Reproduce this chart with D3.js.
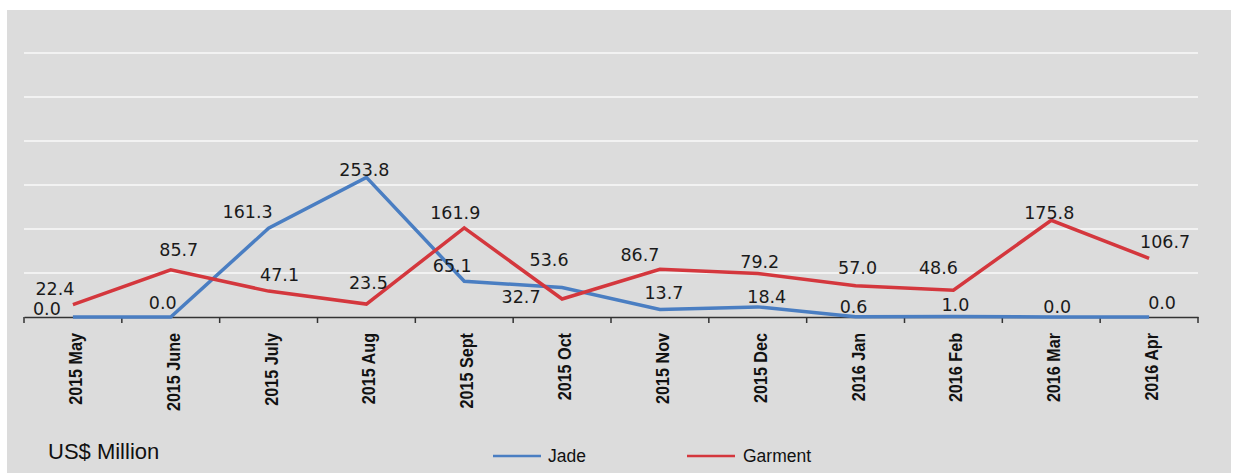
<!DOCTYPE html>
<html>
<head>
<meta charset="utf-8">
<script src="https://cdn.jsdelivr.net/npm/d3@7"></script>
<style>
  html, body { margin: 0; padding: 0; background: #ffffff; }
  svg { display: block; }
</style>
</head>
<body>
<svg id="chart" width="1236" height="473"></svg>
<script>
// ---- data ----
const categories = ["2015 May", "2015 June", "2015 July", "2015 Aug", "2015 Sept", "2015 Oct",
                    "2015 Nov", "2015 Dec", "2016 Jan", "2016 Feb", "2016 Mar", "2016 Apr"];
const jade    = [0.0, 0.0, 161.3, 253.8, 65.1, 53.6, 13.7, 18.4, 0.6, 1.0, 0.0, 0.0];
const garment = [22.4, 85.7, 47.1, 23.5, 161.9, 32.7, 86.7, 79.2, 57.0, 48.6, 175.8, 106.7];
const yTicks  = [0, 80, 160, 240, 320, 400, 480];
const unitLabel = "US$ Million";

// label placement offsets (dx, dy) relative to each point
const jadeLabelOffsets = [[-26,-2],[-8,-8],[-21,-10],[-2,-1],[-12,-9],[-13,-22],[4,-10],[9,-4],[-2,-4],[2,-5],[6,-4],[13,-8]];
const garmentLabelOffsets = [[-18,-10],[8,-14],[11,-10],[2,-15],[-9,-9],[-41,4],[-20,-8],[2,-5],[2,-12],[-15,-16],[-2,-1],[16,-10]];

const series = [
  { name: "Jade", values: jade, color: "#4a7ec2", offsets: jadeLabelOffsets },
  { name: "Garment", values: garment, color: "#d4373d", offsets: garmentLabelOffsets }
];

const svg = d3.select("#chart");

// background panel
svg.append("rect").attr("x", 7).attr("y", 10).attr("width", 1224).attr("height", 463)
  .attr("fill", "#dcdcdc");

const x = d3.scaleBand().domain(categories).range([24, 1198]).padding(0);
const y = d3.scaleLinear().domain([0, 480]).range([317, 53]);

// gridlines
svg.append("g").selectAll("line").data(yTicks.filter(d => d > 0)).join("line")
  .attr("x1", 24).attr("x2", 1198)
  .attr("y1", d => y(d)).attr("y2", d => y(d))
  .attr("stroke", "#f2f2f2").attr("stroke-width", 2);

// x axis
const xAxis = d3.axisBottom(x).tickSize(0).tickFormat("");
const gx = svg.append("g").attr("transform", `translate(0,${y(0)})`).call(xAxis);
gx.select(".domain").attr("stroke", "#333").attr("stroke-width", 1.5);
// boundary tick marks
const bounds = categories.map(c => x(c)).concat([x(categories[categories.length - 1]) + x.bandwidth()]);
gx.selectAll("line.bt").data(bounds).join("line").attr("class", "bt")
  .attr("x1", d => d).attr("x2", d => d).attr("y1", 0).attr("y2", 6)
  .attr("stroke", "#333").attr("stroke-width", 1.5);

// category labels (rotated)
svg.append("g").selectAll("text").data(categories).join("text")
  .attr("transform", d => `translate(${x(d) + x.bandwidth() / 2 + 9},333) rotate(-90) scale(0.85,1)`)
  .attr("text-anchor", "end")
  .attr("font-family", "Liberation Sans, Arial, sans-serif")
  .attr("font-weight", "bold")
  .attr("font-size", 19)
  .attr("fill", "#111")
  .text(d => d);

// lines
const line = d3.line()
  .x((d, i) => x(categories[i]) + x.bandwidth() / 2)
  .y(d => y(d));

series.forEach(s => {
  svg.append("path").datum(s.values)
    .attr("d", line)
    .attr("fill", "none")
    .attr("stroke", s.color)
    .attr("stroke-width", 3.5)
    .attr("stroke-linejoin", "miter");
});

// data labels
series.forEach(s => {
  svg.append("g").selectAll("text").data(s.values).join("text")
    .attr("x", (d, i) => x(categories[i]) + x.bandwidth() / 2 + s.offsets[i][0])
    .attr("y", (d, i) => y(d) + s.offsets[i][1])
    .attr("text-anchor", "middle")
    .attr("font-family", "DejaVu Sans, sans-serif")
    .attr("font-size", 17.5)
    .attr("fill", "#1a1a1a")
    .text(d => d.toFixed(1));
});

// unit label
svg.append("text").attr("x", 48).attr("y", 459)
  .attr("font-family", "Liberation Sans, Arial, sans-serif")
  .attr("font-size", 22).attr("fill", "#111")
  .text(unitLabel);

// legend
const legendPos = [{ lx: 493, tx: 548 }, { lx: 687, tx: 743 }];
series.forEach((s, i) => {
  const p = legendPos[i];
  svg.append("line").attr("x1", p.lx).attr("x2", p.lx + 48)
    .attr("y1", 456).attr("y2", 456)
    .attr("stroke", s.color).attr("stroke-width", 2.5);
  svg.append("text").attr("x", p.tx).attr("y", 462)
    .attr("font-family", "Liberation Sans, Arial, sans-serif")
    .attr("font-size", 17.5).attr("fill", "#111")
    .text(s.name);
});
</script>
</body>
</html>
